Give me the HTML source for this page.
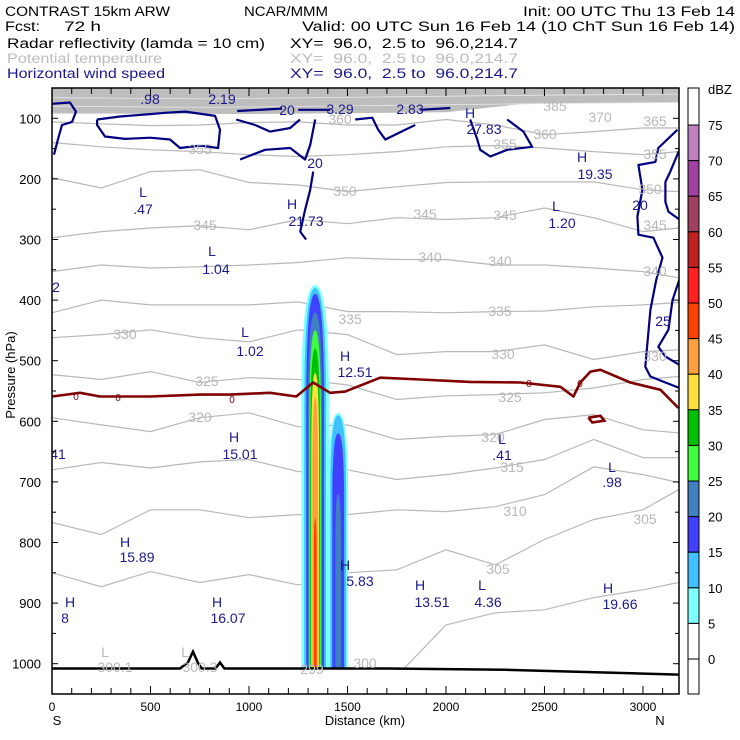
<!DOCTYPE html>
<html><head><meta charset="utf-8"><style>
html,body{margin:0;padding:0;background:#fff;}
svg{display:block;font-family:"Liberation Sans",sans-serif;}
</style></head><body>
<svg id="chart" width="740" height="740" viewBox="0 0 740 740" xmlns="http://www.w3.org/2000/svg">
<g font-size="13.5">
<text x="5" y="16" textLength="165" lengthAdjust="spacingAndGlyphs">CONTRAST 15km ARW</text>
<text x="244" y="16" textLength="84" lengthAdjust="spacingAndGlyphs">NCAR/MMM</text>
<text x="523" y="16" textLength="212" lengthAdjust="spacingAndGlyphs">Init: 00 UTC Thu 13 Feb 14</text>
<text x="5" y="31" textLength="35" lengthAdjust="spacingAndGlyphs">Fcst:</text>
<text x="64" y="31" textLength="37" lengthAdjust="spacingAndGlyphs">72 h</text>
<text x="302" y="31" textLength="433" lengthAdjust="spacingAndGlyphs">Valid: 00 UTC Sun 16 Feb 14 (10 ChT Sun 16 Feb 14)</text>
<text x="7" y="48" textLength="258" lengthAdjust="spacingAndGlyphs">Radar reflectivity (lamda = 10 cm)</text>
<text x="290" y="48" textLength="228" lengthAdjust="spacingAndGlyphs">XY=&#160; 96.0,&#160; 2.5 to&#160; 96.0,214.7</text>
<text x="7" y="63" fill="#bdbdbd" textLength="155" lengthAdjust="spacingAndGlyphs">Potential temperature</text>
<text x="290" y="63" fill="#bdbdbd" textLength="228" lengthAdjust="spacingAndGlyphs">XY=&#160; 96.0,&#160; 2.5 to&#160; 96.0,214.7</text>
<text x="7" y="78" fill="#1a1a8c" textLength="158" lengthAdjust="spacingAndGlyphs">Horizontal wind speed</text>
<text x="290" y="78" fill="#1a1a8c" textLength="228" lengthAdjust="spacingAndGlyphs">XY=&#160; 96.0,&#160; 2.5 to&#160; 96.0,214.7</text>
</g>
<defs><clipPath id="plotclip"><rect x="52" y="88" width="627" height="606"/></clipPath></defs>
<g id="plot" clip-path="url(#plotclip)"></g>
<g id="overlay"></g>
</svg>
<script>
// ---- data ----
const xSamples = [0,250,500,750,1000,1250,1500,1750,2000,2250,2500,2750,3000,3180];
const thetaLevels = [360,355,350,345,340,335,330,325,320,315,310,305];
const theta360 = [106,109,112,111,107,106,111,111,102,111,127,122,116,116];
const theta355 = [140,147,152,155,160,163,160,155,147,145,149,155,160,155];
const theta350 = [198,215,188,185,206,210,221,213,206,205,205,205,218,221];
const theta345 = [297,287,281,277,284,267,274,264,267,264,248,264,287,281];
const theta340 = [353,342,347,345,342,338,330,333,333,342,342,347,353,363];
const theta335 = [421,400,408,408,408,403,419,419,421,419,418,411,408,404];
const theta330 = [462,457,449,462,469,449,457,490,485,485,474,498,485,482];
const theta325 = [523,531,518,536,528,531,540,564,558,556,553,545,531,526];
const theta320 = [594,606,617,594,586,609,606,630,625,622,597,589,614,619];
const theta315 = [680,668,677,667,663,683,680,696,688,677,663,630,660,660];
const theta310 = [767,787,746,746,759,754,754,746,749,741,721,675,688,701];
const theta305 = [850,873,848,866,853,870,850,845,812,837,795,762,746,713];
const theta300Km = [1790,2000,2250,2500,2750,3000,3180];
const theta300P = [1007,936,916,911,891,878,866];
const bandKm = [0,1000,2000,2400,3180];
const bandP = [92,93,90,76,74];
const frzKm = [0,142,244,498,752,904,1107,1240,1326,1412,1488,1666,1870,2124,2378,2581,2647,2682,2733,2784,2936,3089,3180];
const frzP = [559,553,559,559,556,556,553,559,536,553,551,528,531,535,536,543,559,536,518,515,536,548,578];
const frzLoopKm = [2723,2784,2804,2743,2723];
const frzLoopP = [594,591,599,602,594];
const groundKm = [0,650,690,716,740,760,830,853,875,1700,2300,3180];
const groundP = [1008,1008,998,980,998,1008,1008,998,1008,1008,1010,1018];
const windContours = [
 {km:[0,91,122,102,51,30,10], p:[76,74,89,106,111,135,160]},
 {km:[229,345,498,574,676,828,853,843,752,650,599,498,371,269,229,229], p:[102,97,93,91,89,96,119,149,145,149,135,132,134,130,111,102]},
 {km:[940,1168], p:[88,84]},
 {km:[1250,1412], p:[86,86]},
 {km:[935,1031,1107,1209,1259], p:[102,111,122,116,102]},
 {km:[955,1082,1209,1285,1311,1336], p:[168,152,149,168,144,102]},
 {km:[1290,1260,1285,1311,1326], p:[300,287,251,218,188]},
 {km:[1539,1626,1656,1692,1742,1793,1844], p:[102,99,119,135,127,119,111]},
 {km:[1870,2022], p:[86,83]},
 {km:[2123,2159,2174,2225,2311,2438,2393,2311], p:[102,135,152,163,152,147,122,102]},
 {km:[3175,3078,3063,2977,2997,2972,2977,3053,3099,3068,3038,3012,3038,3114,3185], p:[119,149,172,177,218,262,292,297,330,366,416,510,526,536,545]},
 {km:[3185,3139,3114,3114,3129,3185], p:[152,188,205,238,254,267]},
 {km:[3185,3150,3129,3078,3114,3185], p:[366,400,449,477,493,507]}
];
const dbzLevels = [5,10,15,20,25,30,35,40,45];
const dbzColors = ["#80ffff","#40c0ff","#4040ff","#4080c0","#40ff40","#00c000","#ffe040","#ffa040","#ff4000"];
const tower1Km = 1336;
const tower1Top = [375,380,390,420,450,480,520,560,760];
const tower1HalfW = [70,55,45,36,30,25,20,14,7];
const tower2Km = 1453;
const tower2Top = [586,590,620,720];
const tower2HalfW = [50,40,30,14];
const cbLabels = [75,70,65,60,55,50,45,40,35,30,25,20,15,10,5,0];
const cbColors = ["#c080c0","#a040a0","#a04060","#c02020","#ff2020","#ff4000","#ffa040","#ffe040","#00c000","#40ff40","#4080c0","#4040ff","#40c0ff","#80ffff","#ffffff"];
const pTicks = [100,200,300,400,500,600,700,800,900,1000];
const xTicks = [0,500,1000,1500,2000,2500,3000];
const navyLabels = [["L",148,88],[".98",150,104],["L",215,88],["2.19",222,104],["20",287,115],["3.29",340,114],["L",408,88],["2.83",410,114],["H",470,118],["27.83",484,134],["20",315,168],["L",143,197],[".47",143,214],["H",292,209],["21.73",306,226],["L",212,256],["1.04",216,274],["H",582,162],["19.35",595,179],["L",556,211],["1.20",562,228],["20",640,210],["2",56,292],["25",663,326],["L",245,337],["1.02",250,356],["H",345,361],["12.51",355,377],["H",234,442],["15.01",240,459],["41",58,459],["L",502,444],[".41",502,460],["L",612,472],[".98",612,487],["H",125,547],["15.89",137,562],["H",345,570],["5.83",360,586],["H",70,607],["8",65,623],["H",217,607],["16.07",228,623],["H",420,590],["13.51",432,607],["L",482,590],["4.36",488,607],["H",608,593],["19.66",620,609]];
const grayLabels = [["385",555,111],["370",600,122],["365",655,126],["360",545,139],["360",340,124],["355",505,149],["355",200,154],["355",655,159],["350",345,196],["350",650,194],["345",205,230],["345",425,219],["345",505,220],["345",655,230],["340",430,262],["340",500,266],["340",655,276],["335",350,324],["335",500,316],["330",125,339],["330",503,359],["330",655,361],["325",207,386],["325",510,402],["320",200,422],["320",493,442],["315",512,472],["310",515,516],["305",645,524],["305",498,574],["300",365,668],["300.1",115,672],["300.3",200,672],["299",312,674],["L",105,657],["L",185,657]];
const zeroLabels = [[76,400],[118,401],[232,403],[529,387],[580,387]];

// ---- axes functions ----
const X0=52, X1=679, Y0=88, Y1=694, KMAX=3183, PTOP=50, PBOT=1050;
const xs = km => X0 + km/KMAX*(X1-X0);
const ys = p => Y0 + (p-PTOP)/(PBOT-PTOP)*(Y1-Y0);
const NS="http://www.w3.org/2000/svg";
const plot=document.getElementById('plot'), ov=document.getElementById('overlay');
function mk(tag, attrs, parent){const e=document.createElementNS(NS,tag);for(const k in attrs)e.setAttribute(k,attrs[k]);parent.appendChild(e);return e;}
function pts(kms,ps){return kms.map((k,i)=>xs(k).toFixed(1)+','+ys(ps[i]).toFixed(1)).join(' ');}

// gray top band
let bandD='M'+xs(0)+','+ys(PTOP)+' L'+xs(KMAX)+','+ys(PTOP)+' '+bandKm.slice().reverse().map((k,i)=>'L'+xs(k)+','+ys(bandP[bandP.length-1-i])).join(' ')+' Z';
const band=mk('path',{d:bandD,fill:'#bdbdbd'},plot);


[66,80].forEach((p,i)=>{const l=mk('polyline',{points:pts([0,800,1600,2400,3180],[p,p+2,p-1,p-4,p-6]),fill:'none',stroke:'#e8e8e8','stroke-width':0.8},plot);

});

// isentropes
const thetaSeries=[theta360,theta355,theta350,theta345,theta340,theta335,theta330,theta325,theta320,theta315,theta310,theta305];
thetaSeries.forEach((arr,i)=>{const l=mk('polyline',{points:pts(xSamples,arr),fill:'none',stroke:'#b8b8b8','stroke-width':1.2},plot);

});
const t300=mk('polyline',{points:pts(theta300Km,theta300P),fill:'none',stroke:'#b8b8b8','stroke-width':1.2},plot);



// reflectivity towers
function tower(c,tops,hw,base,name){tops.forEach((top,i)=>{const w=hw[i];const mid=top+0.3*(base-top);
const d='M'+xs(c-w)+','+ys(base)+' L'+xs(c-w)+','+ys(mid)+' Q'+xs(c-w)+','+ys(top)+' '+xs(c)+','+ys(top)+' Q'+xs(c+w)+','+ys(top)+' '+xs(c+w)+','+ys(mid)+' L'+xs(c+w)+','+ys(base)+' Z';
const e=mk('path',{d:d,fill:dbzColors[i]},plot);

});}
tower(tower1Km,tower1Top,tower1HalfW,1008,'tower1');
tower(tower2Km,tower2Top,tower2HalfW,1008,'tower2');

// wind contours
windContours.forEach((c,i)=>{const l=mk('polyline',{points:pts(c.km,c.p),fill:'none',stroke:'#000080','stroke-width':2.2,'stroke-linejoin':'round'},plot);

});

// freezing level
const fz=mk('polyline',{points:pts(frzKm,frzP),fill:'none',stroke:'#800000','stroke-width':2.6,'stroke-linejoin':'round'},plot);


const fl=mk('polyline',{points:pts(frzLoopKm,frzLoopP),fill:'none',stroke:'#800000','stroke-width':2.6},plot);



// ground
const gd='M'+xs(0)+','+ys(PBOT)+' L'+groundKm.map((k,i)=>xs(k)+','+ys(groundP[i])).join(' L')+' L'+xs(KMAX)+','+ys(groundP[groundP.length-1])+' L'+xs(KMAX)+','+ys(PBOT)+' Z';
const gf=mk('path',{d:gd,fill:'#fff'},plot);


const gl=mk('polyline',{points:pts(groundKm,groundP),fill:'none',stroke:'#000','stroke-width':2.5},plot);



// labels
grayLabels.forEach(l=>{const t=mk('text',{x:l[1],y:l[2],fill:'#b8b8b8','font-size':14,'text-anchor':'middle'},plot);t.textContent=l[0];

});
zeroLabels.forEach(l=>{const t=mk('text',{x:l[0],y:l[1],fill:'#800000','font-size':10,'text-anchor':'middle'},plot);t.textContent='0';

});
navyLabels.forEach(l=>{const t=mk('text',{x:l[1],y:l[2],fill:'#1a1a8c','font-size':14,'text-anchor':'middle'},plot);t.textContent=l[0];

});

// frame and ticks
const fr=mk('rect',{x:X0,y:Y0,width:X1-X0,height:Y1-Y0,fill:'none',stroke:'#000','stroke-width':1.5},ov);


for(let p=100;p<=1050;p+=50){const y=ys(p);const L=p%100===0?6:4;
mk('line',{x1:X0,y1:y,x2:X0+L,y2:y,stroke:'#000'},ov);mk('line',{x1:X1,y1:y,x2:X1-L,y2:y,stroke:'#000'},ov);}
for(let k=0;k<=3100;k+=100){const x=xs(k);const L=k%500===0?8:6;
mk('line',{x1:x,y1:Y1,x2:x,y2:Y1-L,stroke:'#000'},ov);mk('line',{x1:x,y1:Y0,x2:x,y2:Y0+L,stroke:'#000'},ov);}
pTicks.forEach(p=>{const t=mk('text',{x:41,y:ys(p)+5,'font-size':13,'text-anchor':'end'},ov);t.textContent=p;

});
xTicks.forEach(k=>{const t=mk('text',{x:xs(k),y:711,'font-size':12,'text-anchor':'middle'},ov);t.textContent=k;

});
const yt=mk('text',{x:0,y:0,'font-size':13,'text-anchor':'middle',transform:'translate(15,375) rotate(-90)'},ov);yt.textContent='Pressure (hPa)';


const xt=mk('text',{x:365,y:725,'font-size':13,'text-anchor':'middle'},ov);xt.textContent='Distance (km)';


const sT=mk('text',{x:57,y:725,'font-size':13,'text-anchor':'middle'},ov);sT.textContent='S';


const nT=mk('text',{x:660,y:725,'font-size':13,'text-anchor':'middle'},ov);nT.textContent='N';



// colorbar
const CB0=88, CBstep=35.6, CBx=688, CBw=11;
const cbTop=mk('rect',{x:CBx,y:CB0,width:CBw,height:CBstep*1.04,fill:'#fff',stroke:'#000'},ov);


cbColors.forEach((c,i)=>{const r=mk('rect',{x:CBx,y:CB0+CBstep*(1.04+i),width:CBw,height:CBstep,fill:c,stroke:'#000'},ov);

});
const cbBot=mk('rect',{x:CBx,y:CB0+CBstep*(1.04+cbColors.length),width:CBw,height:694-(CB0+CBstep*(1.04+cbColors.length)),fill:'#fff',stroke:'#000'},ov);


cbLabels.forEach((v,i)=>{const t=mk('text',{x:708,y:CB0+CBstep*(1.04+i)+5,'font-size':13},ov);t.textContent=v;

});
const du=mk('text',{x:708,y:94,'font-size':13},ov);du.textContent='dBZ';


</script>
</body></html>
